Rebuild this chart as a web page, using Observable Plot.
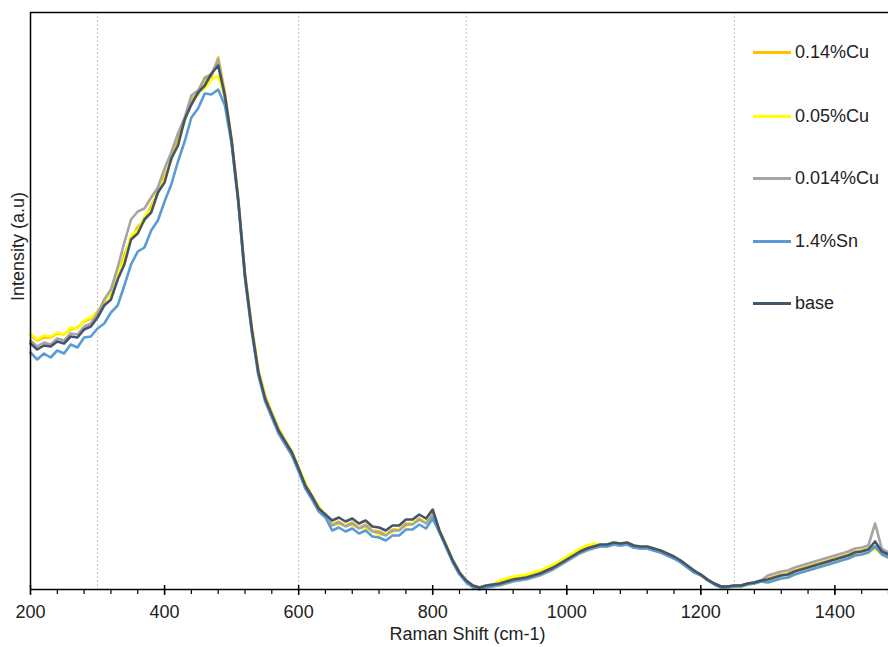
<!DOCTYPE html>
<html>
<head>
<meta charset="utf-8">
<script src="https://cdn.jsdelivr.net/npm/d3@7"></script>
<script src="https://cdn.jsdelivr.net/npm/@observablehq/plot@0.6"></script>
<style>
  html, body { margin: 0; padding: 0; background: #fff; }
  #wrap { position: relative; width: 888px; height: 647px; font-family: "Liberation Sans", Arial, sans-serif; }
  #legend { position: absolute; left: 753px; top: 0; }
  .item { position: absolute; left: 0; display: flex; align-items: center; white-space: nowrap; font-size: 18px; color: #222; }
  .swatch { width: 38px; height: 3px; margin-right: 4px; }
</style>
</head>
<body>
<div id="wrap"><div id="legend"></div></div>
<script>
// Raman shift sampling grid (cm-1)
const shift = d3.range(200, 1481, 10);

const seriesNames = ["0.14%Cu", "0.05%Cu", "0.014%Cu", "1.4%Sn", "base"];
const seriesColors = ["#FFC000", "#FFFF00", "#A5A5A5", "#5B9BD5", "#44546A"];

const cu014 = [
  254,249,252,252,256,255,260,262,268,271,
  278,287,300,312,335,350,363,369,384,396,
  414,429,450,468,491,495,510,513,532,497,
  450,391,316,264,220,194,177,161,149,138,
  122,105,94,81,75,65,68,64,67,62,
  65,59,58,55,60,60,66,66,71,67,
  76,59,45,29,17,9,4,2,4,5,
  8,10,12,13,14,16,18,21,24,28,
  32,36,40,43,45,44,44,46,45,46,
  43,42,42,40,38,35,32,28,23,18,
  15,10,6,3,3,4,4,6,7,9,
  11,13,15,16,19,21,23,25,27,29,
  31,33,35,38,39,41,43,39,36
];
const cu005 = [
  256,250,254,253,257,255,262,261,269,272,
  277,289,295,315,330,354,359,373,380,400,
  410,431,444,470,485,497,501,510,514,492,
  450,390,315,262,218,192,176,160,149,138,
  122,107,92,84,74,66,65,64,64,62,
  61,59,54,56,57,61,63,67,69,68,
  75,59,44,29,17,9,4,2,4,5,
  9,11,13,14,15,17,19,22,25,29,
  33,37,41,44,46,45,45,47,46,47,
  44,43,43,41,39,36,33,29,24,19,
  14,9,5,2,2,3,3,5,6,8,
  7,9,11,12,15,17,19,21,23,25,
  27,29,31,34,35,37,41,35,32
];
const cu0014 = [
  249,243,247,245,251,249,256,255,263,266,
  276,290,300,322,347,370,378,381,392,402,
  421,437,456,472,494,499,512,515,530,491,
  448,388,313,260,216,190,174,158,147,136,
  120,103,92,80,74,64,67,63,66,61,
  64,58,57,54,59,59,65,65,70,66,
  75,58,43,28,16,8,3,1,3,4,
  4,6,8,9,10,12,14,17,20,24,
  28,32,36,39,41,43,43,45,44,45,
  42,41,41,39,37,34,31,27,22,17,
  15,10,6,3,3,4,4,6,7,9,
  14,16,18,19,22,24,26,28,30,32,
  34,36,38,41,42,44,66,41,37
];
const sn14 = [
  237,230,236,232,239,236,245,242,252,253,
  261,266,277,284,304,325,338,342,359,369,
  388,405,428,448,472,481,496,495,500,484,
  446,387,311,258,214,188,172,156,145,134,
  118,101,90,78,72,59,62,58,61,56,
  59,53,52,49,54,54,60,60,65,61,
  71,57,42,27,15,7,2,0,2,3,
  5,7,9,10,11,13,15,18,21,25,
  29,33,37,40,42,43,43,45,44,45,
  42,41,41,39,37,34,31,27,22,17,
  14,9,5,2,2,3,3,5,6,8,
  7,9,11,12,15,17,19,21,23,25,
  27,29,31,34,35,37,43,35,32
];
const base = [
  246,240,244,243,248,246,253,252,260,263,
  272,284,290,310,325,350,356,370,377,397,
  407,431,444,470,485,497,504,516,524,494,
  449,389,314,261,217,191,175,159,148,137,
  121,104,93,81,75,69,72,68,71,66,
  69,63,62,59,64,64,70,70,75,71,
  80,59,44,29,17,9,4,2,4,5,
  6,8,10,11,12,14,16,19,22,26,
  30,34,38,41,43,45,45,47,46,47,
  44,43,43,41,39,36,33,29,24,19,
  15,10,6,3,3,4,4,6,7,9,
  10,12,14,15,18,20,22,24,26,28,
  30,32,34,37,38,40,48,38,35
];

const majorTicks = [200, 400, 600, 800, 1000, 1200, 1400];
const minorTicks = d3.range(200, 1481, 40);
const gridLines = [300, 600, 850, 1250];

const allSeries = [cu014, cu005, cu0014, sn14, base];
const tables = allSeries.map(arr => shift.map((x, i) => ({x, y: arr[i]})));

const font = "Liberation Sans, Arial, sans-serif";

const chart = Plot.plot({
  width: 888,
  height: 647,
  marginLeft: 30,
  marginRight: 0,
  marginTop: 12,
  marginBottom: 58,
  style: {fontFamily: font, fontSize: "18px", color: "#222", background: "white"},
  x: {domain: [200, 1480]},
  y: {domain: [0, 577]},
  marks: [
    Plot.ruleX(gridLines, {stroke: "#bdbdbd", strokeWidth: 1, strokeDasharray: "2,2"}),
    ...tables.map((t, k) => Plot.line(t, {x: "x", y: "y", stroke: seriesColors[k], strokeWidth: 2.6, strokeLinejoin: "round"})),
    Plot.ruleY([577], {stroke: "#000", strokeWidth: 1.5}),
    Plot.ruleX([200], {stroke: "#000", strokeWidth: 1.5}),
    Plot.ruleY([0], {stroke: "#000", strokeWidth: 1.5}),
    Plot.ruleX(majorTicks, {y1: 0, y2: 4, stroke: "#000", strokeWidth: 1.5}),
    Plot.axisX({ticks: majorTicks, tickSize: 6, tickPadding: 10, tickFormat: d => String(d), label: null, stroke: "#000", strokeWidth: 1.5, fill: "#222"}),
    Plot.axisX({ticks: minorTicks, tickSize: 5, tickFormat: () => "", label: null, stroke: "#000", strokeWidth: 1.2}),
    Plot.axisY({ticks: [], label: null}),
    Plot.text(["Raman Shift (cm-1)"], {frameAnchor: "bottom", dy: 50, dx: 8, fontSize: 18, fill: "#222"}),
    Plot.text(["Intensity (a.u)"], {frameAnchor: "left", dx: -12, rotate: -90, fontSize: 18, fill: "#222"})
  ]
});

const wrap = document.getElementById("wrap");
wrap.insertBefore(chart, wrap.firstChild);

const legend = document.getElementById("legend");
const legendTops = [52, 116, 178, 241, 303];
seriesNames.forEach((name, k) => {
  const item = document.createElement("div");
  item.className = "item";
  item.style.top = (legendTops[k] - 11) + "px";
  item.style.height = "22px";
  const sw = document.createElement("span");
  sw.className = "swatch";
  sw.style.background = seriesColors[k];
  const label = document.createElement("span");
  label.textContent = name;
  item.appendChild(sw);
  item.appendChild(label);
  legend.appendChild(item);
});
</script>
</body>
</html>
